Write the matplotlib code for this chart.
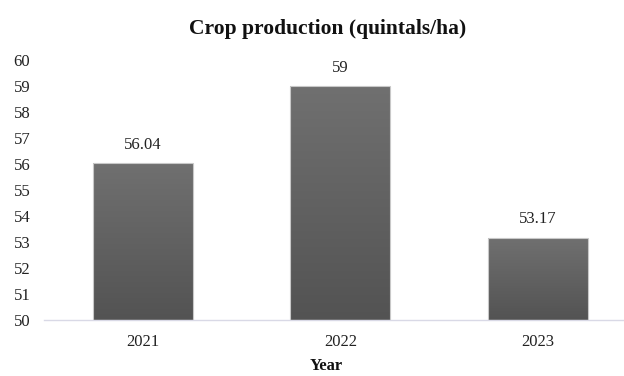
import matplotlib
matplotlib.use("Agg")
import matplotlib.pyplot as plt
import numpy as np

years = ["2021", "2022", "2023"]
production = [56.04, 59, 53.17]
value_labels = ["56.04", "59", "53.17"]

plt.rcParams['font.family'] = ['Liberation Serif', 'DejaVu Serif']


def gradient_bars(ax, bars, top_color, bottom_color):
    grad = np.linspace(0, 1, 256).reshape(-1, 1)
    cmap = matplotlib.colors.LinearSegmentedColormap.from_list("g", [bottom_color, top_color])
    for bar in bars:
        x0, y0 = bar.get_x(), bar.get_y()
        w, h = bar.get_width(), bar.get_height()
        im = ax.imshow(grad, cmap=cmap, aspect='auto', origin='lower',
                       extent=[x0, x0 + w, y0, y0 + h], zorder=2)
        im.set_clip_path(bar)


def main():
    fig = plt.figure(figsize=(6.24, 3.76), dpi=100)
    ax = fig.add_axes([44 / 624, 1 - 320 / 376, 1 - 44 / 624, 260 / 376])

    x = np.arange(len(years))
    bars = ax.bar(x, [p - 50 for p in production], bottom=50, width=0.506,
                  facecolor='none', edgecolor='#c8c8c8', linewidth=0.8, zorder=3)
    gradient_bars(ax, bars, '#707070', '#535353')

    for xi, val, lab in zip(x, production, value_labels):
        ax.text(xi, val + 0.4, lab, ha='center', va='bottom', fontsize=12, color='#222222')

    ax.set_ylim(50, 60)
    ax.set_xlim(-0.5, 2.435)
    ax.set_yticks(range(50, 61))
    ax.set_xticks(x)
    ax.set_xticklabels(years)
    ax.tick_params(axis='both', length=0, labelsize=12, colors='#222222')
    ax.tick_params(axis='x', pad=10)
    for side in ['top', 'right', 'left']:
        ax.spines[side].set_visible(False)
    ax.spines['bottom'].set_color('#d9d9e6')
    ax.spines['bottom'].set_linewidth(1)
    for lab in ax.get_yticklabels():
        lab.set_horizontalalignment('left')
    ax.yaxis.set_tick_params(pad=22)

    fig.text(328 / 624, 1 - 29 / 376, "Crop production (quintals/ha)", ha='center', va='center',
             fontsize=15.5, fontweight='bold', color='#111111')
    fig.text(326 / 624, 1 - 366 / 376, "Year", ha='center', va='center',
             fontsize=12, fontweight='bold', color='#111111')

    fig.savefig("out.png", dpi=100)


if __name__ == "__main__":
    main()
